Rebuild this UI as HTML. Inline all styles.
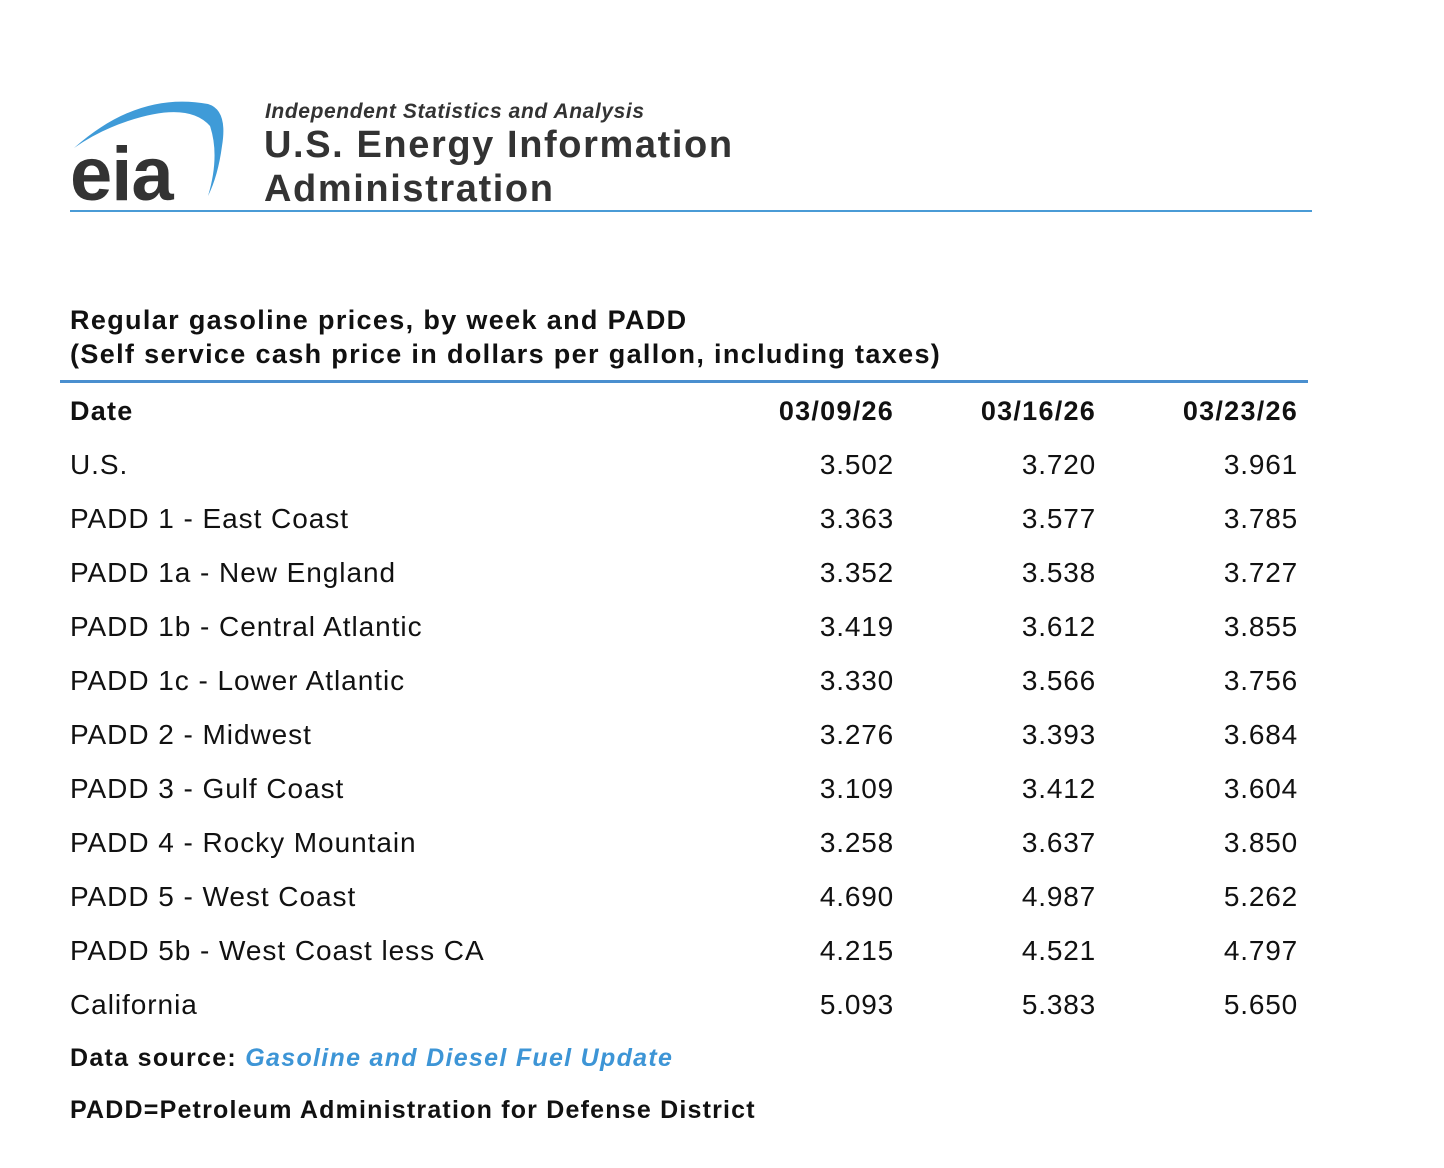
<!DOCTYPE html>
<html><head><style>
body{margin:0;width:1444px;height:1168px;background:#fff;font-family:"Liberation Sans",Arial,sans-serif;color:#111;position:relative;overflow:hidden}
.a{position:absolute;white-space:nowrap}
.r{position:absolute;font-size:28px;line-height:34px;letter-spacing:0.95px}
.n{position:absolute;font-size:28px;line-height:34px;text-align:right;width:150px;letter-spacing:0.8px}
.h{font-weight:bold;font-size:27px;letter-spacing:1.25px}
</style></head><body>
<svg class="a" style="left:68px;top:96px" width="170" height="112">
<path d="M6 52 Q70 -5 140 8 Q160 14 154 50 Q150 80 140 100 Q152 60 142 30 Q120 5 60 25 Q30 35 6 52Z" fill="#3f9bd8"/>
<text x="2" y="104" font-family="Liberation Sans" font-weight="bold" font-size="76" fill="#333" letter-spacing="-1">eia</text>
</svg>
<div class="a" style="left:265px;top:100px;font-size:21px;font-style:italic;font-weight:bold;color:#333;letter-spacing:0.6px">Independent Statistics and Analysis</div>
<div class="a" style="left:264px;top:124px;font-size:38px;font-weight:bold;color:#333;letter-spacing:1.6px">U.S. Energy Information</div>
<div class="a" style="left:264px;top:168px;font-size:38px;font-weight:bold;color:#333;letter-spacing:1.6px">Administration</div>
<div class="a" style="left:70px;top:210px;width:1242px;height:2px;background:#4a9bd6"></div>
<div class="a" style="left:70px;top:303px;font-size:27px;font-weight:bold;line-height:34px;letter-spacing:1.35px">Regular gasoline prices, by week and PADD<br>(Self service cash price in dollars per gallon, including taxes)</div>
<div class="a" style="left:60px;top:380px;width:1248px;height:3px;background:#4a8fcf"></div>
<div class="r h" style="left:70px;top:394px">Date</div>
<div class="n h" style="left:744px;top:394px">03/09/26</div>
<div class="n h" style="left:946px;top:394px">03/16/26</div>
<div class="n h" style="left:1148px;top:394px">03/23/26</div>

<div class="r" style="left:70px;top:448px">U.S.</div><div class="n" style="left:744px;top:448px">3.502</div><div class="n" style="left:946px;top:448px">3.720</div><div class="n" style="left:1148px;top:448px">3.961</div>
<div class="r" style="left:70px;top:502px">PADD 1 - East Coast</div><div class="n" style="left:744px;top:502px">3.363</div><div class="n" style="left:946px;top:502px">3.577</div><div class="n" style="left:1148px;top:502px">3.785</div>
<div class="r" style="left:70px;top:556px">PADD 1a - New England</div><div class="n" style="left:744px;top:556px">3.352</div><div class="n" style="left:946px;top:556px">3.538</div><div class="n" style="left:1148px;top:556px">3.727</div>
<div class="r" style="left:70px;top:610px">PADD 1b - Central Atlantic</div><div class="n" style="left:744px;top:610px">3.419</div><div class="n" style="left:946px;top:610px">3.612</div><div class="n" style="left:1148px;top:610px">3.855</div>
<div class="r" style="left:70px;top:664px">PADD 1c - Lower Atlantic</div><div class="n" style="left:744px;top:664px">3.330</div><div class="n" style="left:946px;top:664px">3.566</div><div class="n" style="left:1148px;top:664px">3.756</div>
<div class="r" style="left:70px;top:718px">PADD 2 - Midwest</div><div class="n" style="left:744px;top:718px">3.276</div><div class="n" style="left:946px;top:718px">3.393</div><div class="n" style="left:1148px;top:718px">3.684</div>
<div class="r" style="left:70px;top:772px">PADD 3 - Gulf Coast</div><div class="n" style="left:744px;top:772px">3.109</div><div class="n" style="left:946px;top:772px">3.412</div><div class="n" style="left:1148px;top:772px">3.604</div>
<div class="r" style="left:70px;top:826px">PADD 4 - Rocky Mountain</div><div class="n" style="left:744px;top:826px">3.258</div><div class="n" style="left:946px;top:826px">3.637</div><div class="n" style="left:1148px;top:826px">3.850</div>
<div class="r" style="left:70px;top:880px">PADD 5 - West Coast</div><div class="n" style="left:744px;top:880px">4.690</div><div class="n" style="left:946px;top:880px">4.987</div><div class="n" style="left:1148px;top:880px">5.262</div>
<div class="r" style="left:70px;top:934px">PADD 5b - West Coast less CA</div><div class="n" style="left:744px;top:934px">4.215</div><div class="n" style="left:946px;top:934px">4.521</div><div class="n" style="left:1148px;top:934px">4.797</div>
<div class="r" style="left:70px;top:988px">California</div><div class="n" style="left:744px;top:988px">5.093</div><div class="n" style="left:946px;top:988px">5.383</div><div class="n" style="left:1148px;top:988px">5.650</div>

<div class="a" style="left:70px;top:1043px;font-size:25px;font-weight:bold;line-height:30px;letter-spacing:1.3px">Data source: <span style="color:#3d95d6;font-style:italic">Gasoline and Diesel Fuel Update</span></div>
<div class="a" style="left:70px;top:1095px;font-size:25px;font-weight:bold;line-height:30px;letter-spacing:1.2px">PADD=Petroleum Administration for Defense District</div>
</body></html>
